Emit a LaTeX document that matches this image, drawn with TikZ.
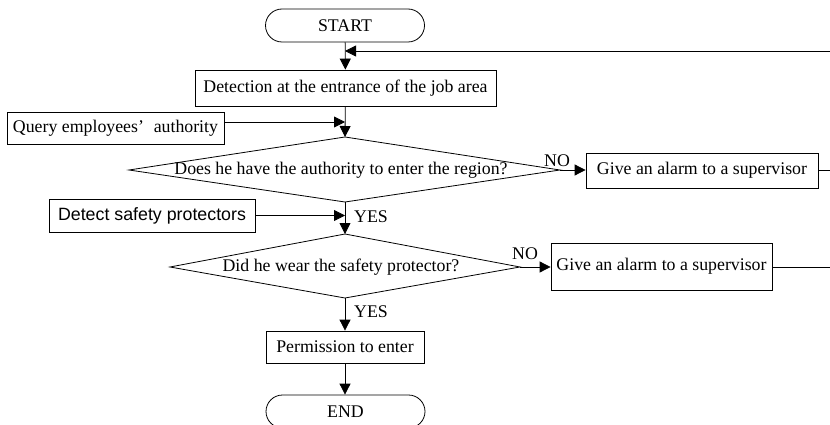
\documentclass[tikz,border=0pt]{standalone}
\usepackage{fontspec}
\setmainfont{Liberation Serif}
\newfontfamily\arialfont{Liberation Sans}
\usetikzlibrary{arrows.meta,shapes.misc}

\tikzset{
  x=1pt, y=-1pt,
  every node/.style={font=\fontsize{17.8}{20}\selectfont},
  boxnode/.style={draw, rectangle, line width=0.8pt, inner sep=0pt},
  termnode/.style={draw, rounded rectangle, line width=0.8pt, inner sep=0pt,
                   minimum width=159, minimum height=33},
  flow/.style={line width=0.8pt},
  arr/.style={flow, -{Triangle[length=11pt,width=11pt]}},
  lbl/.style={inner sep=0pt},
}

\begin{document}
\begin{tikzpicture}
  \useasboundingbox (0,0) rectangle (830,425);
  \clip (0,0) rectangle (830,425);

  % terminals and process boxes
  \node[termnode] (start) at (345,25.5) {START};
  \node[boxnode, minimum width=301, minimum height=36] (det) at (345.5,88)
        {Detection at the entrance of the job area};
  \node[boxnode, minimum width=217, minimum height=32] (query) at (115.5,128)
        {Query employees’\hspace{0.55em}authority};
  \node[boxnode, minimum width=232, minimum height=35] (alarm1) at (702,170.5)
        {Give an alarm to a supervisor};
  \node[boxnode, minimum width=206, minimum height=33] (detect) at (152,215.5)
        {\arialfont Detect safety protectors};
  \node[boxnode, minimum width=221, minimum height=47] (alarm2) at (661.5,266.5)
        {Give an alarm to a supervisor};
  \node[boxnode, minimum width=158, minimum height=32] (perm) at (345,347)
        {Permission to enter};
  \node[termnode] (end) at (345.5,411.5) {END};

  % decision 1
  \coordinate (d1t) at (345,137);
  \coordinate (d1r) at (560,170);
  \coordinate (d1b) at (345,202);
  \coordinate (d1l) at (129,170);
  \draw[flow] (d1t) -- (d1r) -- (d1b) -- (d1l) -- cycle;
  \node[lbl] (q1) at (341,170) {Does he have the authority to enter the region?};

  % decision 2
  \coordinate (d2t) at (345,234);
  \coordinate (d2r) at (520,267);
  \coordinate (d2b) at (345,298);
  \coordinate (d2l) at (170,267);
  \draw[flow] (d2t) -- (d2r) -- (d2b) -- (d2l) -- cycle;
  \node[lbl] (q2) at (341,267) {Did he wear the safety protector?};

  % branch labels
  \node[lbl] (no1) at (557,161) {NO};
  \node[lbl, anchor=west] (yes1) at (354,217) {YES};
  \node[lbl] (no2) at (525,254) {NO};
  \node[lbl, anchor=west] (yes2) at (354,312) {YES};

  % main flow
  \draw[arr] (start) -- (det);
  \draw[arr] (det) -- (d1t);
  \draw[arr] (d1b) -- (d2t);
  \draw[arr] (d2b) -- (perm);
  \draw[arr] (perm) -- (end.north -| perm);

  % side inputs
  \coordinate (qy) at (0,122);
  \draw[arr] (query.east |- qy) -- (d1t |- qy);
  \draw[arr] (detect.east) -- (d1b |- detect.east);

  % NO branches
  \draw[arr] (d1r) -- (alarm1.west |- d1r);
  \draw[arr] (d2r) -- (alarm2.west |- d2r);

  % return lines leaving to the right
  \coordinate (out1) at (830,170);
  \coordinate (out2) at (830,267);
  \coordinate (back) at (830,51);
  \draw[flow] (alarm1.east |- out1) -- (out1);
  \draw[flow] (alarm2.east |- out2) -- (out2);
  \draw[arr] (back) -- (start.south |- back);
\end{tikzpicture}
\end{document}
